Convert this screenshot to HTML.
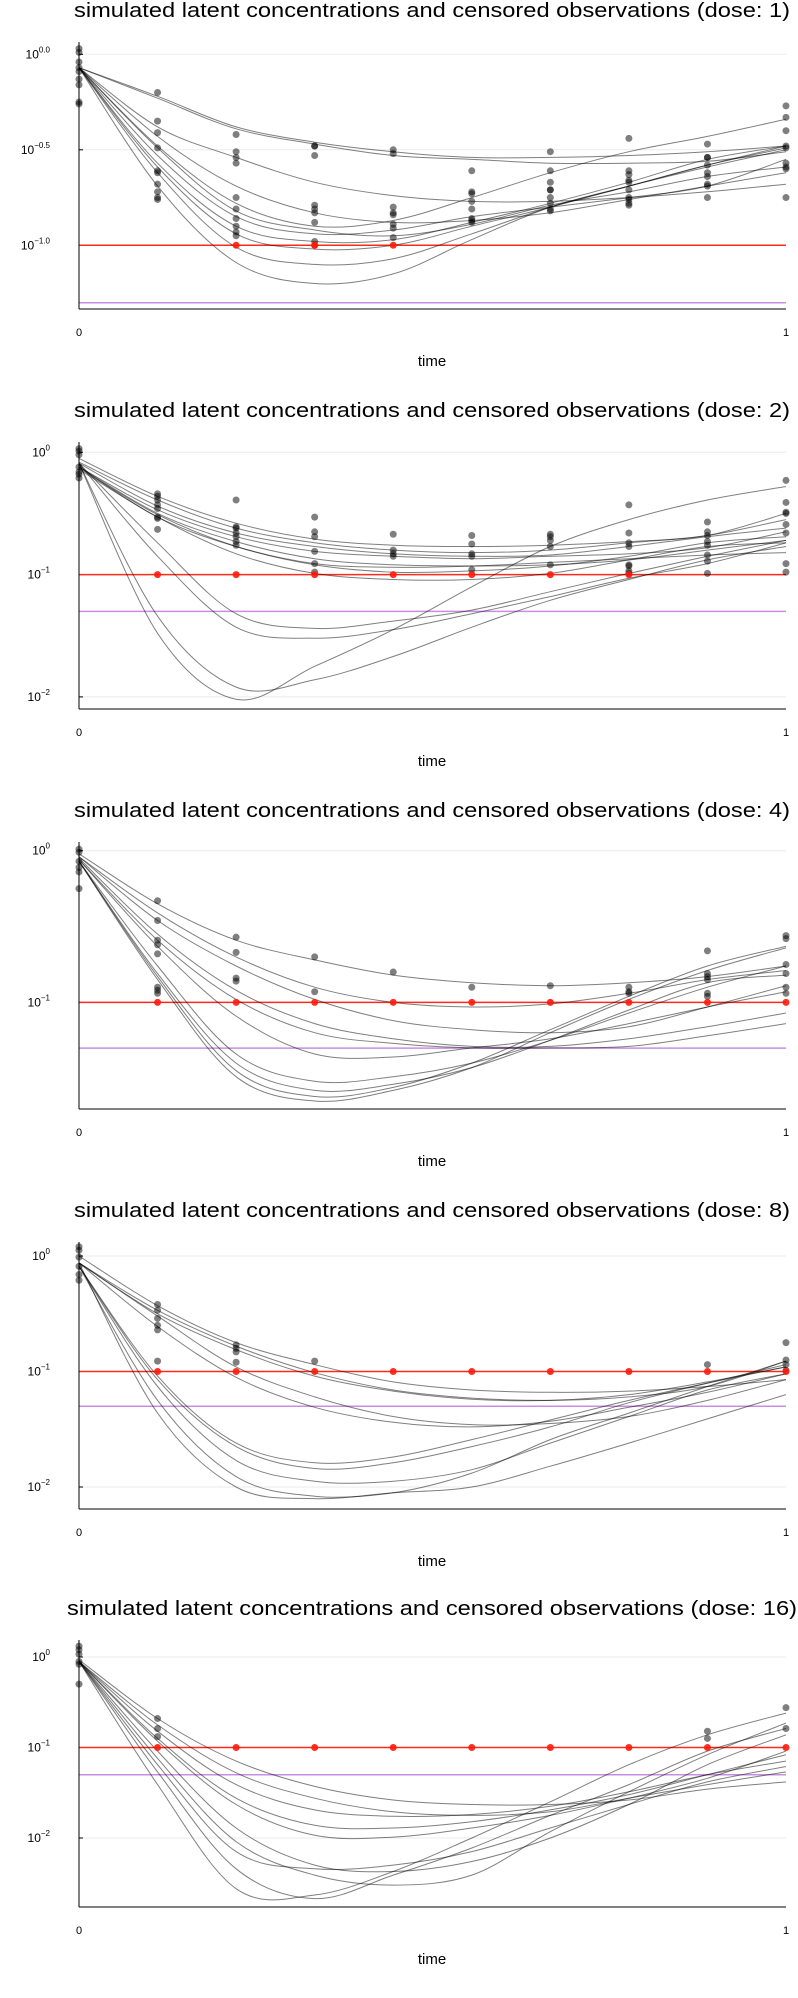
<!DOCTYPE html>
<html><head><meta charset="utf-8"><style>
html,body{margin:0;padding:0;background:#fff;}
svg{display:block;font-family:"Liberation Sans",sans-serif;}
</style></head><body>
<svg id="chart" width="798" height="1998" viewBox="0 0 798 1998" xmlns="http://www.w3.org/2000/svg"></svg>
<script>
// ---- data: log10 concentrations at times k/9, k=0..9 ----
const times = [0,1/9,2/9,3/9,4/9,5/9,6/9,7/9,8/9,1];
const doses = [1,2,4,8,16];
const lloq = 0.1;
const threshold = 0.05;

const curves1 = [
[-0.07,-0.22,-0.38,-0.46,-0.51,-0.54,-0.54,-0.53,-0.51,-0.48],
[-0.07,-0.23,-0.39,-0.47,-0.53,-0.55,-0.57,-0.57,-0.56,-0.51],
[-0.07,-0.48,-0.78,-0.90,-0.87,-0.75,-0.62,-0.51,-0.43,-0.34],
[-0.07,-0.38,-0.54,-0.67,-0.74,-0.77,-0.77,-0.75,-0.72,-0.68],
[-0.07,-0.43,-0.69,-0.83,-0.88,-0.87,-0.83,-0.76,-0.69,-0.62],
[-0.07,-0.49,-0.82,-0.92,-0.95,-0.89,-0.79,-0.72,-0.64,-0.59],
[-0.07,-0.57,-0.90,-0.98,-0.97,-0.88,-0.78,-0.67,-0.55,-0.48],
[-0.07,-0.59,-0.94,-1.02,-1.00,-0.90,-0.80,-0.69,-0.58,-0.49],
[-0.07,-0.62,-1.01,-1.10,-1.07,-0.94,-0.80,-0.69,-0.58,-0.48],
[-0.07,-0.69,-1.09,-1.20,-1.15,-0.97,-0.80,-0.69,-0.59,-0.50],
[-0.07,-0.53,-0.85,-0.94,-0.92,-0.85,-0.80,-0.75,-0.69,-0.55]
];
const obs1 = [
[0.03,0.01,-0.04,-0.07,-0.09,-0.13,-0.16,-0.25,-0.26],
[-0.20,-0.35,-0.41,-0.49,-0.61,-0.62,-0.68,-0.72,-0.75,-0.76],
[-0.42,-0.51,-0.54,-0.57,-0.75,-0.81,-0.86,-0.90,-0.93,-0.95],
[-0.48,-0.48,-0.53,-0.79,-0.81,-0.83,-0.88,-0.98],
[-0.50,-0.52,-0.80,-0.83,-0.84,-0.89,-0.91,-0.96],
[-0.61,-0.72,-0.73,-0.77,-0.81,-0.86,-0.87,-0.88],
[-0.51,-0.61,-0.67,-0.71,-0.71,-0.75,-0.78,-0.81,-0.82],
[-0.44,-0.61,-0.63,-0.66,-0.67,-0.71,-0.75,-0.76,-0.78,-0.79],
[-0.47,-0.54,-0.54,-0.58,-0.62,-0.64,-0.68,-0.69,-0.75],
[-0.27,-0.33,-0.40,-0.48,-0.49,-0.57,-0.59,-0.60,-0.75]
];
const censored1 = [2,3,3,4];

const curves2 = [
[-0.05,-0.36,-0.58,-0.71,-0.76,-0.77,-0.76,-0.73,-0.68,-0.50],
[-0.08,-0.39,-0.62,-0.74,-0.80,-0.82,-0.80,-0.74,-0.68,-0.55],
[-0.09,-0.44,-0.66,-0.77,-0.83,-0.85,-0.84,-0.77,-0.69,-0.62],
[-0.12,-0.47,-0.69,-0.81,-0.85,-0.87,-0.85,-0.83,-0.78,-0.65],
[-0.12,-0.50,-0.73,-0.87,-0.92,-0.93,-0.92,-0.88,-0.80,-0.72],
[-0.13,-0.51,-0.77,-0.92,-0.98,-0.97,-0.93,-0.85,-0.74,-0.69],
[-0.14,-0.53,-0.83,-0.99,-1.04,-1.04,-0.99,-0.88,-0.77,-0.74],
[-0.12,-0.53,-0.77,-0.91,-0.94,-0.93,-0.90,-0.87,-0.84,-0.82],
[-0.09,-0.74,-1.32,-1.44,-1.38,-1.29,-1.14,-0.99,-0.85,-0.72],
[-0.09,-0.85,-1.43,-1.52,-1.45,-1.32,-1.18,-1.03,-0.91,-0.74],
[-0.09,-1.34,-1.92,-1.86,-1.67,-1.43,-1.21,-1.04,-0.88,-0.77],
[-0.09,-1.48,-2.02,-1.75,-1.45,-1.10,-0.77,-0.55,-0.39,-0.28]
];
const obs2 = [
[0.03,0.01,-0.02,-0.12,-0.16,-0.18,-0.21],
[-0.34,-0.36,-0.39,-0.43,-0.46,-0.53,-0.54,-0.63],
[-0.39,-0.61,-0.62,-0.66,-0.69,-0.73,-0.76],
[-0.53,-0.65,-0.69,-0.81,-0.91,-0.98],
[-0.67,-0.80,-0.83,-0.85],
[-0.68,-0.75,-0.83,-0.85,-0.96],
[-0.67,-0.69,-0.72,-0.77,-0.92],
[-0.43,-0.66,-0.74,-0.77,-0.92,-0.93,-0.97,-0.99],
[-0.57,-0.65,-0.68,-0.73,-0.76,-0.84,-0.89,-0.99],
[-0.23,-0.41,-0.49,-0.50,-0.59,-0.66,-0.91,-0.98]
];
const censored2 = [1,2,3,4,5,6,7];

const curves3 = [
[-0.02,-0.35,-0.59,-0.72,-0.82,-0.87,-0.89,-0.87,-0.83,-0.76],
[-0.04,-0.41,-0.70,-0.90,-1.00,-1.03,-1.01,-0.94,-0.85,-0.79],
[-0.04,-0.46,-0.76,-0.98,-1.12,-1.18,-1.20,-1.16,-1.03,-0.89],
[-0.05,-0.55,-0.92,-1.14,-1.24,-1.29,-1.29,-1.24,-1.16,-1.07],
[-0.06,-0.59,-0.98,-1.20,-1.27,-1.30,-1.30,-1.29,-1.22,-1.14],
[-0.06,-0.63,-1.09,-1.34,-1.36,-1.30,-1.24,-1.14,-1.03,-0.93],
[-0.07,-0.76,-1.34,-1.52,-1.49,-1.40,-1.25,-1.07,-0.90,-0.76],
[-0.07,-0.81,-1.40,-1.58,-1.54,-1.43,-1.25,-1.05,-0.87,-0.82],
[-0.07,-0.83,-1.45,-1.62,-1.56,-1.40,-1.18,-0.96,-0.76,-0.63],
[-0.07,-0.85,-1.49,-1.65,-1.58,-1.43,-1.20,-0.98,-0.79,-0.64]
];
const obs3 = [
[0.01,-0.01,-0.07,-0.11,-0.14,-0.25],
[-0.33,-0.46,-0.59,-0.62,-0.68,-0.90,-0.92,-0.94],
[-0.57,-0.67,-0.84,-0.86],
[-0.70,-0.93],
[-0.80],
[-0.90],
[-0.89],
[-0.90,-0.93,-0.94],
[-0.66,-0.81,-0.83,-0.85,-0.94,-0.96],
[-0.56,-0.58,-0.75,-0.81,-0.90,-0.94]
];
const censored3 = [1,2,3,4,5,6,7,8,9];

const curves4 = [
[0.00,-0.43,-0.75,-0.94,-1.09,-1.16,-1.18,-1.17,-1.13,-1.07],
[-0.06,-0.47,-0.78,-1.01,-1.16,-1.23,-1.25,-1.22,-1.13,-0.91],
[-0.06,-0.50,-0.81,-1.04,-1.17,-1.24,-1.25,-1.20,-1.09,-0.96],
[-0.06,-0.52,-0.96,-1.22,-1.39,-1.46,-1.45,-1.39,-1.25,-1.07],
[-0.06,-0.61,-1.05,-1.31,-1.44,-1.48,-1.43,-1.31,-1.18,-1.02],
[-0.09,-1.04,-1.62,-1.79,-1.74,-1.59,-1.42,-1.25,-1.10,-0.96],
[-0.09,-1.07,-1.65,-1.84,-1.79,-1.65,-1.48,-1.27,-1.10,-0.94],
[-0.09,-1.13,-1.77,-1.95,-1.95,-1.85,-1.62,-1.39,-1.16,-1.02],
[-0.09,-1.25,-1.91,-2.08,-2.05,-1.88,-1.59,-1.36,-1.13,-0.91],
[-0.06,-1.36,-2.00,-2.10,-2.05,-2.00,-1.82,-1.62,-1.41,-1.20]
];
const obs4 = [
[0.08,0.05,-0.01,-0.09,-0.16,-0.21],
[-0.42,-0.47,-0.54,-0.60,-0.64,-0.91],
[-0.77,-0.80,-0.83,-0.92],
[-0.91],[],[],[],[],
[-0.94],
[-0.75,-0.90,-0.94,-0.99]
];
const censored4 = [1,2,3,4,5,6,7,8,9];

const curves5 = [
[-0.03,-0.68,-1.15,-1.43,-1.58,-1.63,-1.63,-1.58,-1.46,-1.38],
[-0.05,-0.75,-1.28,-1.56,-1.71,-1.75,-1.71,-1.56,-1.41,-1.27],
[-0.05,-0.82,-1.41,-1.69,-1.76,-1.74,-1.65,-1.49,-1.30,-1.15],
[-0.05,-0.90,-1.56,-1.86,-1.89,-1.82,-1.69,-1.52,-1.30,-1.08],
[-0.05,-0.93,-1.63,-1.97,-1.99,-1.89,-1.75,-1.56,-1.34,-1.04],
[-0.05,-1.04,-1.89,-2.30,-2.37,-2.26,-2.00,-1.63,-1.19,-0.86],
[-0.05,-1.12,-2.04,-2.41,-2.52,-2.41,-1.93,-1.49,-1.08,-0.73],
[-0.05,-1.41,-2.56,-2.63,-2.37,-2.00,-1.60,-1.19,-0.86,-0.62],
[-0.05,-1.27,-2.34,-2.67,-2.41,-2.11,-1.75,-1.41,-1.04,-0.79],
[-0.05,-1.19,-2.15,-2.34,-2.30,-2.15,-1.89,-1.63,-1.38,-1.21]
];
const obs5 = [
[0.12,0.08,0.03,-0.05,-0.08,-0.30],
[-0.68,-0.79,-0.88],
[],[],[],[],[],[],
[-0.82,-0.90],
[-0.56,-0.79]
];
const censored5 = [1,2,3,4,5,6,7,8,9];

const tickVals1 = [0,-0.5,-1];
const tickLabels1 = ["0.0","−0.5","−1.0"];
const tickVals2 = [0,-1,-2];
const tickLabels2 = ["0","−1","−2"];
const tickVals3 = [0,-1];
const tickLabels3 = ["0","−1"];

// ---- layout (not data) ----
const panels = [
 {off:0,   y0:54.3, dec:191,   curves:curves1, obs:obs1, cens:censored1, tv:tickVals1, tl:tickLabels1},
 {off:400, y0:52.3, dec:122.3, curves:curves2, obs:obs2, cens:censored2, tv:tickVals2, tl:tickLabels2},
 {off:800, y0:50.7, dec:151.7, curves:curves3, obs:obs3, cens:censored3, tv:tickVals3, tl:tickLabels3},
 {off:1200,y0:56,   dec:115.5, curves:curves4, obs:obs4, cens:censored4, tv:tickVals2, tl:tickLabels2},
 {off:1598,y0:59,   dec:90.5,  curves:curves5, obs:obs5, cens:censored5, tv:tickVals2, tl:tickLabels2}
];
const XL=79, XR=786, YT=42, YB=309;
const NS="http://www.w3.org/2000/svg";
const svg=document.getElementById('chart');
function mk(tag,attrs,parent){const e=document.createElementNS(NS,tag);for(const k in attrs)e.setAttribute(k,attrs[k]);(parent||svg).appendChild(e);return e;}
function xS(t){return XL+t*(XR-XL);}

panels.forEach((p,i)=>{
  const g=mk('g',{transform:'translate(0,'+p.off+')'});
  
  
  const yS=L=>p.y0-L*p.dec;
  const cid='clip'+i;
  const cp=mk('clipPath',{id:cid},g);
  mk('rect',{x:XL,y:YT,width:XR-XL,height:YB-YT},cp);
  // title
  const title=mk('text',{x:432,y:17,'text-anchor':'middle','font-size':20,fill:'#000',textLength:doses[i]>9?730:716,lengthAdjust:'spacingAndGlyphs'},g);
  title.textContent='simulated latent concentrations and censored observations (dose: '+doses[i]+')';
  
  
  // grid + y ticks
  p.tv.forEach((v,j)=>{
    const y=yS(v);
    const gl=mk('line',{x1:XL,x2:XR,y1:y,y2:y,stroke:'#000','stroke-opacity':0.08,'stroke-width':1},g);
    
    
    mk('line',{x1:XL,x2:XL+4,y1:y,y2:y,stroke:'#000','stroke-width':1},g);
    const t=mk('text',{x:50,y:y+4,'text-anchor':'end','font-size':12,fill:'#000'},g);
    
    
    const a=document.createElementNS(NS,'tspan');a.textContent='10';t.appendChild(a);
    const b=document.createElementNS(NS,'tspan');b.setAttribute('dy','-6');b.setAttribute('font-size','8');b.textContent=p.tl[j];t.appendChild(b);
  });
  // reference lines
  const rl=mk('line',{x1:XL,x2:XR,y1:yS(Math.log10(lloq)),y2:yS(Math.log10(lloq)),stroke:'#ff2a1a','stroke-width':1.5},g);
  
  
  const pl=mk('line',{x1:XL,x2:XR,y1:yS(Math.log10(threshold)),y2:yS(Math.log10(threshold)),stroke:'#c98ee0','stroke-width':1.5},g);
  
  
  // curves
  const cg=mk('g',{'clip-path':'url(#'+cid+')'},g);
  p.curves.forEach(c=>{
    const pts=c.map((v,k)=>[xS(times[k]),yS(v)]);
    let d='M'+pts[0][0]+','+pts[0][1];
    for(let k=0;k<pts.length-1;k++){
      const p0=pts[Math.max(k-1,0)],p1=pts[k],p2=pts[k+1],p3=pts[Math.min(k+2,pts.length-1)];
      const c1=[p1[0]+(p2[0]-p0[0])/6,p1[1]+(p2[1]-p0[1])/6];
      const c2=[p2[0]-(p3[0]-p1[0])/6,p2[1]-(p3[1]-p1[1])/6];
      d+=' C'+c1[0].toFixed(1)+','+c1[1].toFixed(1)+' '+c2[0].toFixed(1)+','+c2[1].toFixed(1)+' '+p2[0].toFixed(1)+','+p2[1].toFixed(1);
    }
    const path=mk('path',{d:d,fill:'none',stroke:'#000','stroke-opacity':0.5,'stroke-width':1},cg);
    
    
  });
  // observations
  p.obs.forEach((arr,k)=>{
    arr.forEach(v=>{
      const c=mk('circle',{cx:xS(times[k]),cy:yS(v),r:3.5,fill:'#000','fill-opacity':0.5},g);
      
      
    });
  });
  p.cens.forEach(k=>{
    const c=mk('circle',{cx:xS(times[k]),cy:yS(Math.log10(lloq)),r:3.5,fill:'#ff1a0a','fill-opacity':0.9},g);
    
    
  });
  // axes
  const ya=mk('line',{x1:XL,x2:XL,y1:YT,y2:YB,stroke:'#000','stroke-width':1},g);
  
  
  const xa=mk('line',{x1:XL,x2:XR,y1:YB,y2:YB,stroke:'#000','stroke-width':1},g);
  
  
  [[0,'0'],[1,'1']].forEach(([t,l])=>{
    const tx=mk('text',{x:xS(t),y:336,'text-anchor':'middle','font-size':11,fill:'#000'},g);
    tx.textContent=l;
    
    
  });
  const xt=mk('text',{x:432,y:366,'text-anchor':'middle','font-size':15,fill:'#000'},g);
  xt.textContent='time';
  
  
});
</script>
</body></html>
